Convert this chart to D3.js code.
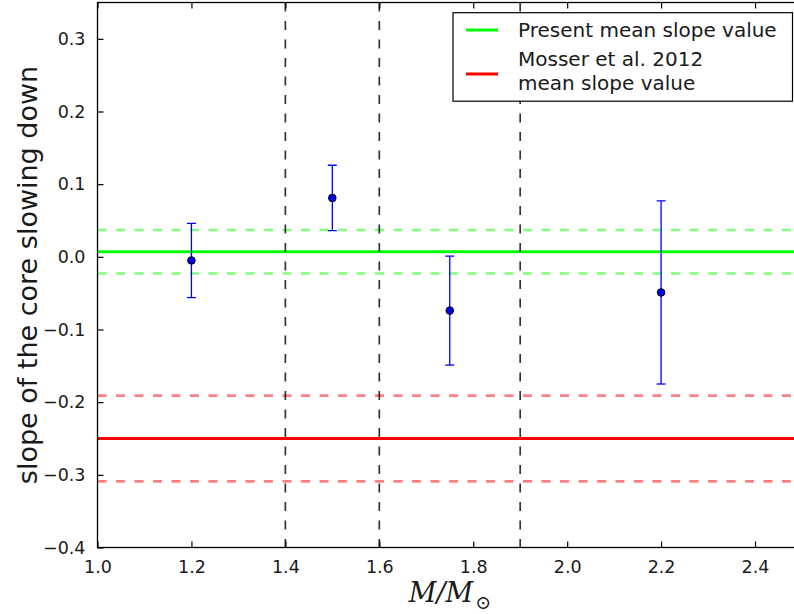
<!DOCTYPE html>
<html lang="en">

<head>
    <meta charset="UTF-8">
    <title>Core slowing down slope</title>
    <script src="https://d3js.org/d3.v7.min.js"></script>
    <style>
        body { margin: 0; background: #fff; }
        svg { display: block; }
    </style>
</head>

<body>
    <svg id="chart" width="794" height="614"></svg>

    <script>
        // data
        const masses = [1.2, 1.5, 1.75, 2.2];
        const slopes = [-0.005, 0.081, -0.074, -0.049];
        const slopeErrors = [0.051, 0.045, 0.075, 0.126];

        const binEdges = [1.4, 1.6, 1.9];

        const presentMean = 0.007;
        const presentErr = 0.030;
        const mosserMean = -0.25;
        const mosserErr = 0.059;

        const xTicks = [1.0, 1.2, 1.4, 1.6, 1.8, 2.0, 2.2, 2.4];
        const yTicks = [-0.4, -0.3, -0.2, -0.1, 0.0, 0.1, 0.2, 0.3];
        const legendLabels = [["Present mean slope value"], ["Mosser et al. 2012", "mean slope value"]];
        const legendColors = ["#00ff00", "#ff0000"];

        const width = 794;
        const height = 614;
        const margin = { top: 2.5, right: -8, bottom: 66.5, left: 97.5 };

        const svg = d3.select("#chart");
        const font = "'DejaVu Sans', sans-serif";
        const textColor = "#1a1a1a";

        const xScale = d3.scaleLinear()
            .domain([1.0, 2.5])
            .range([margin.left, width - margin.right]);

        const yScale = d3.scaleLinear()
            .domain([-0.4, 0.35])
            .range([height - margin.bottom, margin.top]);

        const x0 = xScale.range()[0], x1 = xScale.range()[1];
        const y0 = yScale.range()[0], y1 = yScale.range()[1];

        svg.append("clipPath").attr("id", "plot-clip")
            .append("rect")
            .attr("x", x0).attr("y", y1)
            .attr("width", x1 - x0).attr("height", y0 - y1);

        const plot = svg.append("g").attr("clip-path", "url(#plot-clip)");

        // horizontal mean lines with +/- error
        const hLines = [
            { v: presentMean + presentErr, c: "#80ff80", w: 2.6, dash: "9,9.5" },
            { v: presentMean - presentErr, c: "#80ff80", w: 2.6, dash: "9,9.5" },
            { v: presentMean, c: "#00ff00", w: 3, dash: null },
            { v: mosserMean + mosserErr, c: "#ff8080", w: 2.6, dash: "9,9.5" },
            { v: mosserMean - mosserErr, c: "#ff8080", w: 2.6, dash: "9,9.5" },
            { v: mosserMean, c: "#ff0000", w: 3, dash: null }
        ];
        hLines.forEach(l => {
            plot.append("line")
                .attr("x1", x0).attr("x2", x1)
                .attr("y1", yScale(l.v)).attr("y2", yScale(l.v))
                .attr("stroke", l.c)
                .attr("stroke-width", l.w)
                .attr("stroke-dasharray", l.dash);
        });

        // mass bin edges
        binEdges.forEach(b => {
            plot.append("line")
                .attr("x1", xScale(b)).attr("x2", xScale(b))
                .attr("y1", y1).attr("y2", y0)
                .attr("stroke", "#000")
                .attr("stroke-opacity", 0.8)
                .attr("stroke-width", 1.7)
                .attr("stroke-dasharray", "9,9.5");
        });

        // error bars
        masses.forEach((m, i) => {
            const cx = xScale(m);
            const top = yScale(slopes[i] + slopeErrors[i]);
            const bot = yScale(slopes[i] - slopeErrors[i]);
            plot.append("line")
                .attr("x1", cx).attr("x2", cx).attr("y1", top).attr("y2", bot)
                .attr("stroke", "#0000ff").attr("stroke-width", 1.3);
            [top, bot].forEach(cy => {
                plot.append("line")
                    .attr("x1", cx - 4.5).attr("x2", cx + 4.5).attr("y1", cy).attr("y2", cy)
                    .attr("stroke", "#0000ff").attr("stroke-width", 1.3);
            });
        });

        plot.selectAll(".pt")
            .data(masses)
            .enter().append("circle")
            .attr("class", "pt")
            .attr("cx", d => xScale(d))
            .attr("cy", (d, i) => yScale(slopes[i]))
            .attr("r", 3.8)
            .attr("fill", "#0000ee")
            .attr("stroke", "#000")
            .attr("stroke-width", 1);

        // axes, matplotlib classic style: ticks inside on all sides
        const tickLen = 6;
        const minus = d => d3.format(".1f")(d).replace("-", "\u2212");

        const bottomAxis = svg.append("g")
            .attr("transform", `translate(0,${y0})`)
            .call(d3.axisBottom(xScale).tickValues(xTicks).tickSize(-tickLen).tickPadding(tickLen + 7).tickFormat(d3.format(".1f")));
        const topAxis = svg.append("g")
            .attr("transform", `translate(0,${y1})`)
            .call(d3.axisTop(xScale).tickValues(xTicks).tickSize(-tickLen).tickFormat(""));
        const leftAxis = svg.append("g")
            .attr("transform", `translate(${x0},0)`)
            .call(d3.axisLeft(yScale).tickValues(yTicks).tickSize(-tickLen).tickPadding(tickLen + 6).tickFormat(minus));

        [bottomAxis, topAxis, leftAxis].forEach(a => {
            a.select(".domain").remove();
            a.selectAll(".tick line").attr("stroke", "#000").attr("stroke-width", 1.2);
            a.selectAll(".tick text")
                .attr("fill", textColor)
                .style("font-family", font)
                .style("font-size", "17.5px");
        });

        // frame
        svg.append("rect")
            .attr("x", x0).attr("y", y1)
            .attr("width", x1 - x0).attr("height", y0 - y1)
            .attr("fill", "none")
            .attr("stroke", "#000")
            .attr("stroke-width", 1.3);

        // axis labels
        svg.append("text")
            .attr("transform", `translate(37,${(y0 + y1) / 2}) rotate(-90)`)
            .attr("text-anchor", "middle")
            .attr("fill", textColor)
            .style("font-family", font)
            .style("font-size", "27px")
            .text("slope of the core slowing down");

        const xLabel = svg.append("text")
            .attr("x", 450).attr("y", 602)
            .attr("text-anchor", "middle")
            .attr("fill", textColor)
            .style("font-family", "'DejaVu Serif', serif")
            .style("font-style", "italic")
            .style("font-size", "27px");
        xLabel.append("tspan").text("M/M");
        xLabel.append("tspan")
            .attr("dx", 2)
            .attr("dy", 7)
            .style("font-style", "normal")
            .style("font-size", "19px")
            .text("\u2299");

        // legend
        const legend = svg.append("g");
        legend.append("rect")
            .attr("x", 453).attr("y", 12.7)
            .attr("width", 339.5).attr("height", 88.5)
            .attr("fill", "#fff")
            .attr("stroke", "#000")
            .attr("stroke-width", 1.2);

        const legendRowY = [30, 74];
        legendLabels.forEach((lines, i) => {
            legend.append("line")
                .attr("x1", 466).attr("x2", 498)
                .attr("y1", legendRowY[i]).attr("y2", legendRowY[i])
                .attr("stroke", legendColors[i])
                .attr("stroke-width", 3);
            const t = legend.append("text")
                .attr("x", 518)
                .attr("y", i === 0 ? 36.5 : 66)
                .attr("fill", textColor)
                .style("font-family", font)
                .style("font-size", "20px");
            lines.forEach((s, j) => {
                t.append("tspan").attr("x", 518).attr("dy", j === 0 ? 0 : 23.5).text(s);
            });
        });
    </script>
</body>

</html>
